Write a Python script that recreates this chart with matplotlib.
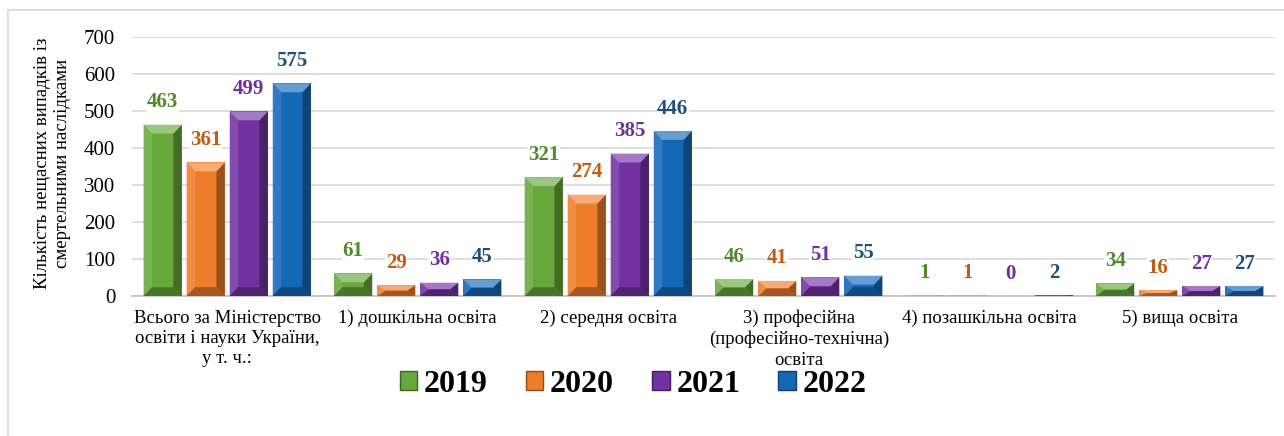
import matplotlib.pyplot as plt
from matplotlib.patches import Polygon, Rectangle, Patch
from matplotlib.colors import to_rgb
import numpy as np

categories = ["Всього за Міністерство\nосвіти і науки України,\nу т. ч.:",
              "1) дошкільна освіта",
              "2) середня освіта",
              "3) професійна\n(професійно-технічна)\nосвіта",
              "4) позашкільна освіта",
              "5) вища освіта"]
years = ["2019", "2020", "2021", "2022"]
v2019 = [463, 61, 321, 46, 1, 34]
v2020 = [361, 29, 274, 41, 1, 16]
v2021 = [499, 36, 385, 51, 0, 27]
v2022 = [575, 45, 446, 55, 2, 27]
series = [v2019, v2020, v2021, v2022]

bar_colors = ["#67a83a", "#ee7d2b", "#7232a3", "#1568b8"]
label_colors = ["#4f8a2c", "#c55a11", "#7030a0", "#1f4e79"]

plt.rcParams['font.family'] = ['Liberation Serif', 'DejaVu Serif']


def shade(c, f):
    r = np.array(to_rgb(c))
    if f > 0:
        return tuple(r + (1 - r) * f)
    return tuple(r * (1 + f))


def bevel(ax, patch, color):
    x0 = patch.get_x()
    w = patch.get_width()
    h = patch.get_height()
    x1 = x0 + w
    if h <= 0:
        return
    b = w * 0.22
    v = min(24.0, h / 2.0)
    ax.add_patch(Rectangle((x0, 0), w, h, fc=color, ec='none', zorder=3))
    ax.add_patch(Polygon([(x0, 0), (x0 + b, v), (x0 + b, h - v), (x0, h)],
                         fc=shade(color, 0.12), ec='none', zorder=4))
    ax.add_patch(Polygon([(x1, 0), (x1 - b, v), (x1 - b, h - v), (x1, h)],
                         fc=shade(color, -0.35), ec='none', zorder=4))
    ax.add_patch(Polygon([(x0, h), (x1, h), (x1 - b, h - v), (x0 + b, h - v)],
                         fc=shade(color, 0.35), ec='none', zorder=4))
    ax.add_patch(Polygon([(x0, 0), (x1, 0), (x1 - b, v), (x0 + b, v)],
                         fc=shade(color, -0.3), ec='none', zorder=4))


fig = plt.figure(figsize=(12.84, 4.36), dpi=100)
ax = fig.add_axes([0.1028, 0.321, 0.8902, 0.594])

x = np.arange(len(categories))
step = 0.226
bw = 0.2
for i, vals in enumerate(series):
    bars = ax.bar(x + (i - 1.5) * step, vals, bw, color='none', zorder=2)
    for p in bars:
        bevel(ax, p, bar_colors[i])
    ax.bar_label(bars, padding=9, color=label_colors[i], fontsize=15,
                 fontweight='bold',
                 bbox=dict(fc='white', ec='none', pad=0.5), zorder=5)

ax.set_ylim(0, 700)
ax.set_xlim(-0.5, len(categories) - 0.5)
ax.set_yticks(range(0, 701, 100))
ax.tick_params(axis='y', length=0, pad=12, labelsize=15)
ax.tick_params(axis='x', length=0, pad=10, labelsize=13.5)
ax.set_xticks(x)
ax.set_xticklabels(categories, linespacing=1.25)
ax.grid(axis='y', color='#d9d9d9', lw=1.2, zorder=0)
ax.set_axisbelow(True)
for s in ['top', 'right', 'left']:
    ax.spines[s].set_visible(False)
ax.spines['bottom'].set_color('#bfbfbf')
ax.spines['bottom'].set_linewidth(1.2)

fig.text(0.041, 0.625, "Кількість нещасних випадків із\nсмертельними наслідками",
         rotation=90, ha='center', va='center', fontsize=13.5, linespacing=1.2)

handles = [Patch(fc=c, ec=shade(c, -0.4), lw=1) for c in bar_colors]
fig.legend(handles, years, loc='center', bbox_to_anchor=(0.493, 0.119),
           ncol=4, frameon=False, prop=dict(size=23, weight='bold'),
           handlelength=0.55, handleheight=0.55, handletextpad=0.2,
           columnspacing=1.2)

fig.patches.append(Rectangle((8 / 1284, -0.05), 1.1, 426 / 436 + 0.05,
                             transform=fig.transFigure, fill=False,
                             ec='#d9d9d9', lw=1.2))

fig.savefig("out.png", dpi=100)
